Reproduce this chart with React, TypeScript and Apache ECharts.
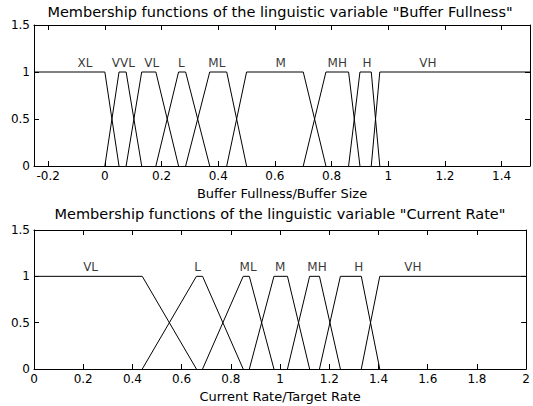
import React, { useEffect, useRef } from "react";
import * as echarts from "echarts";

const FONT = "DejaVu Sans";

// Buffer Fullness membership functions (x = Buffer Fullness/Buffer Size, y = membership)
const bufferXL = [[-0.25, 1], [0, 1], [0.05, 0]];
const bufferVVL = [[0, 0], [0.05, 1], [0.075, 1], [0.13, 0]];
const bufferVL = [[0.075, 0], [0.13, 1], [0.18, 1], [0.26, 0]];
const bufferL = [[0.18, 0], [0.26, 1], [0.285, 1], [0.37, 0]];
const bufferML = [[0.285, 0], [0.37, 1], [0.43, 1], [0.5, 0]];
const bufferM = [[0.43, 0], [0.5, 1], [0.7, 1], [0.78, 0]];
const bufferMH = [[0.7, 0], [0.78, 1], [0.86, 1], [0.9, 0]];
const bufferH = [[0.86, 0], [0.9, 1], [0.94, 1], [0.97, 0]];
const bufferVH = [[0.94, 0], [0.97, 1], [1.5, 1]];
const bufferSets = [bufferXL, bufferVVL, bufferVL, bufferL, bufferML, bufferM, bufferMH, bufferH, bufferVH];
const bufferTerms = ["XL", "VVL", "VL", "L", "ML", "M", "MH", "H", "VH"];
const bufferLabelX = [-0.07, 0.065, 0.165, 0.27, 0.395, 0.62, 0.82, 0.925, 1.14];
const bufferTicks = [-0.2, 0, 0.2, 0.4, 0.6, 0.8, 1, 1.2, 1.4];

// Current Rate membership functions (x = Current Rate/Target Rate)
const rateVL = [[0, 1], [0.44, 1], [0.66, 0]];
const rateL = [[0.44, 0], [0.66, 1], [0.685, 1], [0.85, 0]];
const rateML = [[0.685, 0], [0.85, 1], [0.875, 1], [0.975, 0]];
const rateM = [[0.875, 0], [0.975, 1], [1.03, 1], [1.12, 0]];
const rateMH = [[1.03, 0], [1.12, 1], [1.16, 1], [1.245, 0]];
const rateH = [[1.16, 0], [1.245, 1], [1.33, 1], [1.405, 0]];
const rateVH = [[1.33, 0], [1.405, 1], [2, 1]];
const rateSets = [rateVL, rateL, rateML, rateM, rateMH, rateH, rateVH];
const rateTerms = ["VL", "L", "ML", "M", "MH", "H", "VH"];
const rateLabelX = [0.23, 0.665, 0.87, 1.0, 1.15, 1.32, 1.54];
const rateTicks = [0, 0.2, 0.4, 0.6, 0.8, 1, 1.2, 1.4, 1.6, 1.8, 2];

const yTicks = [0, 0.5, 1, 1.5];
const termLabelY = 1.1;

const titleTop = 'Membership functions of the linguistic variable "Buffer Fullness"';
const titleBottom = 'Membership functions of the linguistic variable "Current Rate"';
const nameTop = "Buffer Fullness/Buffer Size";
const nameBottom = "Current Rate/Target Rate";

const black = "#000";

function xAxisPair(grid: number, min: number, max: number, ticks: number[], name: string) {
  const common = {
    gridIndex: grid,
    type: "value",
    min,
    max,
    splitLine: { show: false },
    axisLine: { show: true, onZero: false, lineStyle: { color: black, width: 1 } },
    axisTick: { show: true, inside: true, length: 5, customValues: ticks, lineStyle: { color: black } },
  };
  return [
    {
      ...common,
      position: "bottom",
      name,
      nameLocation: "middle",
      nameGap: 21,
      nameTextStyle: { color: black, fontFamily: FONT, fontSize: 13 },
      axisLabel: { show: true, customValues: ticks, margin: 4, color: black, fontFamily: FONT, fontSize: 12 },
    },
    { ...common, position: "top", axisLabel: { show: false } },
  ];
}

function yAxisPair(grid: number) {
  const common = {
    gridIndex: grid,
    type: "value",
    min: 0,
    max: 1.5,
    interval: 0.5,
    splitLine: { show: false },
    axisLine: { show: true, onZero: false, lineStyle: { color: black, width: 1 } },
    axisTick: { show: true, inside: true, length: 5, customValues: yTicks, lineStyle: { color: black } },
  };
  return [
    {
      ...common,
      position: "left",
      axisLabel: { show: true, customValues: yTicks, margin: 4, color: black, fontFamily: FONT, fontSize: 12 },
    },
    { ...common, position: "right", axisLabel: { show: false } },
  ];
}

function mfSeries(sets: number[][][], axisIdx: number) {
  return sets.map((pts) => ({
    type: "line",
    xAxisIndex: axisIdx,
    yAxisIndex: axisIdx,
    data: pts,
    symbol: "none",
    showSymbol: false,
    silent: true,
    lineStyle: { color: black, width: 1 },
  }));
}

function labelSeries(terms: string[], xs: number[], axisIdx: number) {
  return {
    type: "scatter",
    xAxisIndex: axisIdx,
    yAxisIndex: axisIdx,
    symbolSize: 0,
    silent: true,
    data: terms.map((t, i) => ({ name: t, value: [xs[i], termLabelY] })),
    label: {
      show: true,
      position: "inside",
      formatter: "{b}",
      color: black,
      fontFamily: FONT,
      fontSize: 12,
    },
  };
}

export default function App() {
  const ref = useRef<HTMLDivElement>(null);
  useEffect(() => {
    if (!ref.current) return;
    const chart = echarts.init(ref.current, null, { renderer: "svg" });
    const option = {
      animation: false,
      backgroundColor: "#fff",
      grid: [
        { left: 34, top: 25, width: 496, height: 141 },
        { left: 34, top: 230, width: 496, height: 139 },
      ],
      xAxis: [
        ...xAxisPair(0, -0.25, 1.5, bufferTicks, nameTop),
        ...xAxisPair(1, 0, 2, rateTicks, nameBottom),
      ],
      yAxis: [...yAxisPair(0), ...yAxisPair(1)],
      series: [
        ...mfSeries(bufferSets, 0),
        labelSeries(bufferTerms, bufferLabelX, 0),
        ...mfSeries(rateSets, 2),
        labelSeries(rateTerms, rateLabelX, 2),
      ],
      graphic: [
        {
          type: "text",
          x: 280,
          y: 12,
          style: { text: titleTop, align: "center", verticalAlign: "middle", fontFamily: FONT, fontSize: 14.5, fill: black },
        },
        {
          type: "text",
          x: 280,
          y: 214,
          style: { text: titleBottom, align: "center", verticalAlign: "middle", fontFamily: FONT, fontSize: 14.5, fill: black },
        },
      ],
    };
    chart.setOption(option as any);
    return () => chart.dispose();
  }, []);
  return <div ref={ref} style={{ position: "absolute", left: 0, top: 0, width: 533, height: 406 }} />;
}
